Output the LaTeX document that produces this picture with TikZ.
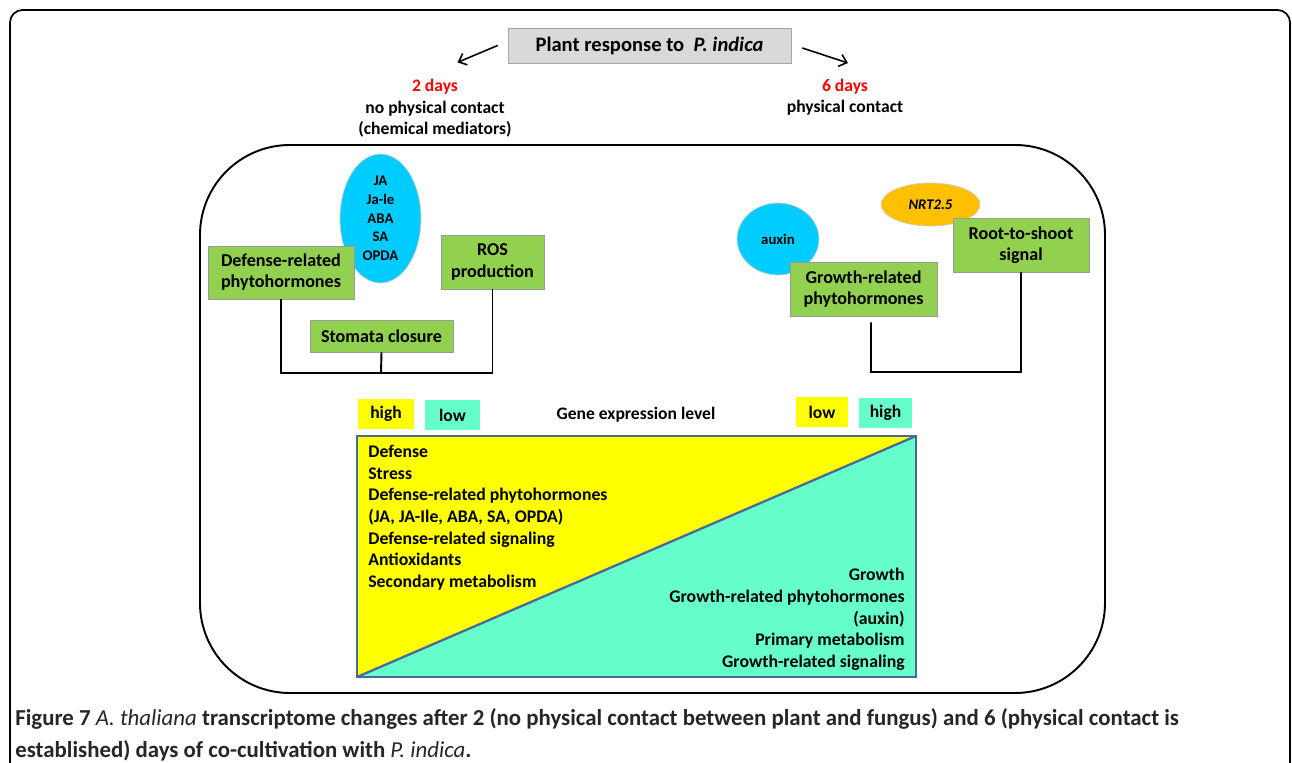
\documentclass[tikz,border=0pt]{standalone}
\usepackage{fontspec}
\setmainfont{Carlito}
\newfontfamily\capfont{Carlito}
\usepackage{tikz}
\usetikzlibrary{arrows.meta}
\usetikzlibrary{shapes.geometric, calc}
\definecolor{vert}{HTML}{92D050}
\definecolor{bleu}{HTML}{00CCFF}
\definecolor{orangec}{HTML}{FFC000}
\definecolor{jaune}{HTML}{FFFF00}
\definecolor{turquoise}{HTML}{66FFCC}
\definecolor{bord}{HTML}{4A6A96}
\definecolor{gris}{HTML}{D9D9D9}
\definecolor{rouge}{rgb}{1.0, 0.0, 0.0}

\tikzset{
  greenbox/.style={draw=gray!80, fill=vert, align=center, inner sep=0pt,
    font=\bfseries\fontsize{10.3}{12}\selectfont},
  hormone/.style={ellipse, draw=gray!40, inner sep=0pt, align=center,
    font=\bfseries\fontsize{8.4}{10.6}\selectfont},
  level/.style={inner sep=0pt, minimum height=0.6cm,
    font=\bfseries\fontsize{10}{12}\selectfont},
  link/.style={line width=1.1pt},
  chart/.style={inner sep=0pt, font=\bfseries\fontsize{10.1}{12.3}\selectfont},
}

\begin{document}
\begin{tikzpicture}[x=0.02cm, y=-0.02cm]
        \useasboundingbox (0,0) rectangle (1292,763);
        % Cadre de la figure
        \draw[line width=1pt, rounded corners=0.25cm] (10,763) -- (10,10) -- (1290,10) -- (1290,763);

        % Titre
        \node[draw=gray!70, fill=gris, minimum width=5.66cm, minimum height=0.7cm, inner sep=0pt,
          font=\bfseries\fontsize{11.7}{14}\selectfont] (plant) at (649.5,45.5) {Plant response to \ \textit{P. indica}};

        % Les deux stades
        \node[align=center, font=\bfseries\fontsize{10}{12.2}\selectfont] (day2) at (435,108.5)
          {\textcolor{rouge}{2 days}\\no physical contact\\(chemical mediators)};
        \node[align=center, font=\bfseries\fontsize{10}{12.2}\selectfont] (day6) at (845,97.5)
          {\textcolor{rouge}{6 days}\\physical contact};
        \draw[-{Straight Barb[length=4pt, width=7pt]}, line width=0.9pt] ([xshift=-0.2cm]plant.west) -- ([xshift=0.45cm, yshift=0.22cm]day2.north);
        \draw[-{Straight Barb[length=4pt, width=7pt]}, line width=0.9pt] ([xshift=0.22cm, yshift=-0.05cm]plant.east) -- ([xshift=0.06cm, yshift=0.2cm]day6.north);

        % Cadre arrondi
        \draw[line width=1.1pt, rounded corners=1.8cm] (200,145) rectangle (1105,693);

        % Hormones (ellipses)
        \node[hormone, fill=bleu, minimum width=1.62cm, minimum height=2.58cm] (hormones) at (380.5,218.5)
          {JA\\Ja-le\\ABA\\SA\\OPDA};
        \node[hormone, fill=bleu, minimum width=1.64cm, minimum height=1.44cm] (auxin) at (778,239) {auxin};
        \node[hormone, fill=orangec, minimum width=1.98cm, minimum height=0.86cm] (nrt) at (930.5,204.5) {\textit{NRT2.5}};

        % Boites vertes
        \node[greenbox, minimum width=2.92cm, minimum height=1.06cm] (defense) at (281,272.5) {Defense-related\\phytohormones};
        \node[greenbox, minimum width=2.06cm, minimum height=1.08cm] (ros) at (492.5,262) {ROS\\production};
        \node[greenbox, minimum width=2.86cm, minimum height=0.64cm] (stomata) at (381.5,336) {Stomata closure};
        \node[greenbox, minimum width=2.94cm, minimum height=1.08cm] (growth) at (863.5,289) {Growth-related\\phytohormones};
        \node[greenbox, minimum width=2.72cm, minimum height=1.08cm] (root) at (1021,245) {Root-to-shoot\\signal};

        % Liaisons
        \coordinate (jl) at (381,373);
        \coordinate (jr) at (871,372);
        \draw[link] (defense.south) |- (jl) -| (ros.south);
        \draw[link] (stomata.south) -- (jl);
        \draw[link] ([xshift=0.15cm, yshift=-0.12cm]growth.south) -- (jr) -| (root.south);

        % Niveau d'expression
        \node[level, fill=jaune, minimum width=1.12cm] (high1) at (386,414) {high};
        \node[level, fill=turquoise, minimum width=1.1cm] (low1) at (452.5,415) {low};
        \node[level] (gene) at (636,415) {Gene expression level};
        \node[level, fill=jaune, minimum width=1.04cm] (low2) at (822,412) {low};
        \node[level, fill=turquoise, minimum width=1.06cm] (high2) at (885.5,413) {high};

        % Rectangle partage en deux
        \fill[jaune] (357,436) -- (916,436) -- (357,677) -- cycle;
        \fill[turquoise] (916,436) -- (916,677) -- (357,677) -- cycle;
        \draw[bord, line width=1.3pt] (357,436) rectangle (916,677);
        \draw[bord, line width=1.3pt] (357,677) -- (916,436);

        \node[chart, anchor=north west, align=left] (defenselist) at (368,445)
          {Defense\\Stress\\Defense-related phytohormones\\(JA, JA-Ile, ABA, SA, OPDA)\\Defense-related signaling\\Antioxidants\\Secondary metabolism};
        \node[chart, anchor=north east, align=right] (growthlist) at (905,568)
          {Growth\\Growth-related phytohormones\\(auxin)\\Primary metabolism\\Growth-related signaling};

        % Legende
        \node[anchor=north west, align=left, inner sep=0pt, text=black!85,
          font=\capfont\bfseries\fontsize{13}{18.2}\selectfont] (caption) at (15,708)
          {Figure 7 {\mdseries\itshape A. thaliana} transcriptome changes after 2 (no physical contact between plant and fungus) and 6 (physical contact is\\
           established) days of co-cultivation with {\mdseries\itshape P. indica}.};
    \end{tikzpicture}
\end{document}
